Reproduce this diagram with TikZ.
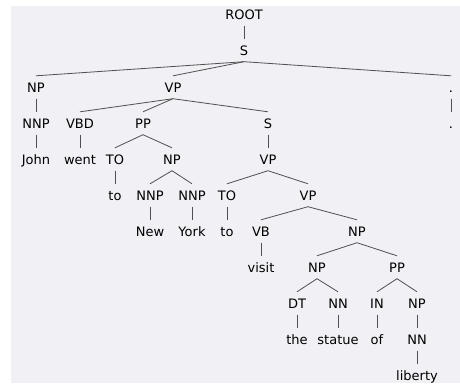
\documentclass[tikz,border=0pt]{standalone}
\usepackage{fontspec}
\setmainfont{DejaVu Sans}
\definecolor{bgc}{HTML}{F0F0F5}
\definecolor{linec}{HTML}{505050}
\begin{document}
\begin{tikzpicture}[x=1pt,y=-1pt,
  t/.style={anchor=base, inner xsep=0pt, inner ysep=6.5pt, text height=9.5pt, text depth=0pt, font=\fontsize{13}{15}\selectfont},
  e/.style={draw=linec, line width=0.8pt}]
\useasboundingbox (0,0) rectangle (460,383);
\fill[bgc] (11,6) rectangle (460,383);
% level 0
\node[t] (root) at (244,19) {ROOT};
% level 1
\node[t] (s1) at (244,55) {S};
% level 2
\node[t] (np1) at (36,92) {NP};
\node[t] (vp1) at (173,92) {VP};
\node[t] (dot1) at (451,92) {.};
% level 3
\node[t] (nnp1) at (36,128) {NNP};
\node[t] (vbd) at (80,128) {VBD};
\node[t] (pp1) at (143,128) {PP};
\node[t] (s2) at (268,128) {S};
\node[t] (dot2) at (451,128) {.};
% level 4
\node[t] (john) at (36,164) {John};
\node[t] (went) at (80,164) {went};
\node[t] (to1) at (115,164) {TO};
\node[t] (np2) at (172,164) {NP};
\node[t] (vp2) at (268,164) {VP};
% level 5
\node[t] (tow1) at (115,200) {to};
\node[t] (nnp2) at (150,200) {NNP};
\node[t] (nnp3) at (192,200) {NNP};
\node[t] (to2) at (227,200) {TO};
\node[t] (vp3) at (308,200) {VP};
% level 6
\node[t] (new) at (150,236) {New};
\node[t] (york) at (192,236) {York};
\node[t] (tow2) at (227,236) {to};
\node[t] (vb) at (261,236) {VB};
\node[t] (np3) at (357,236) {NP};
% level 7
\node[t] (visit) at (261,272) {visit};
\node[t] (np4) at (317,272) {NP};
\node[t] (pp2) at (397,272) {PP};
% level 8
\node[t] (dt) at (297,308) {DT};
\node[t] (nn1) at (338,308) {NN};
\node[t] (in) at (377,308) {IN};
\node[t] (np5) at (417,308) {NP};
% level 9
\node[t] (the) at (297,344) {the};
\node[t] (statue) at (338,344) {statue};
\node[t] (of) at (377,344) {of};
\node[t] (nn2) at (417,344) {NN};
% level 10
\node[t] (liberty) at (417,380) {liberty};
% edges
\foreach \a/\b in {root/s1, s1/np1, s1/vp1, s1/dot1, dot1/dot2, np1/nnp1, nnp1/john,
  vp1/vbd, vp1/pp1, vp1/s2, vbd/went, pp1/to1, pp1/np2, to1/tow1, np2/nnp2, np2/nnp3,
  nnp2/new, nnp3/york, s2/vp2, vp2/to2, vp2/vp3, to2/tow2, vp3/vb, vp3/np3, vb/visit,
  np3/np4, np3/pp2, np4/dt, np4/nn1, dt/the, nn1/statue, pp2/in, pp2/np5, in/of,
  np5/nn2, nn2/liberty}
  \draw[e] (\a.south) -- (\b.north);
\end{tikzpicture}
\end{document}
